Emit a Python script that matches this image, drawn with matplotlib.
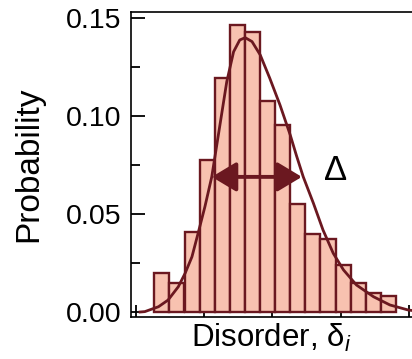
import matplotlib
matplotlib.use("Agg")
import matplotlib.pyplot as plt
from matplotlib.patches import FancyArrowPatch
from matplotlib.ticker import MultipleLocator

plt.rcParams["font.family"] = ["Liberation Sans", "DejaVu Sans"]
plt.rcParams["mathtext.fontset"] = "custom"
plt.rcParams["mathtext.rm"] = "Liberation Sans"
plt.rcParams["mathtext.it"] = "Liberation Sans:italic"

# histogram
bin_centers = [0.379, 0.600, 0.822, 1.043, 1.264, 1.486, 1.707, 1.928,
               2.150, 2.371, 2.592, 2.813, 3.035, 3.256, 3.477, 3.699]
bin_width = 0.2213
probability = [0.0197, 0.0146, 0.0408, 0.0776, 0.1195, 0.1464, 0.1429, 0.1078,
               0.0957, 0.0551, 0.0397, 0.0372, 0.0240, 0.0148, 0.0099, 0.0082]

# fitted curve, points
fit_x = [0.06, 0.13, 0.33, 0.47, 0.62, 0.72, 0.82, 0.91, 1.01, 1.11, 1.23,
         1.33, 1.43, 1.52, 1.60, 1.70, 1.82, 1.96, 2.11, 2.26, 2.35, 2.45,
         2.60, 2.74, 2.89, 3.04, 3.23, 3.48, 3.72, 3.99, 4.04]
fit_y = [0.0000, 0.0002, 0.0027, 0.0061, 0.0129, 0.0198, 0.0282, 0.0402,
         0.0538, 0.0690, 0.0955, 0.1176, 0.1329, 0.1389, 0.1401, 0.1381,
         0.1313, 0.1194, 0.1057, 0.0904, 0.0800, 0.0691, 0.0555, 0.0419,
         0.0300, 0.0215, 0.0138, 0.0078, 0.0036, 0.0010, 0.0008]

# FWHM arrow
arrow_x = [1.11, 2.43]
arrow_y = 0.069
delta_pos = (2.93, 0.0725)

y_ticks = [0.00, 0.05, 0.10, 0.15]
y_tick_labels = ["0.00", "0.05", "0.10", "0.15"]
x_ticks = [0, 1, 2, 3, 4]

dark = "#6b1820"
fill = "#f8c2b0"

fig = plt.figure(figsize=(4.12, 3.59), dpi=100)
ax = fig.add_axes([131 / 412, 42 / 359, 281 / 412, 305 / 359])

ax.bar(bin_centers, probability, width=bin_width, color=fill,
       edgecolor=dark, linewidth=1.7, zorder=2)
ax.plot(fit_x, fit_y, color=dark, lw=2.0, zorder=3)

arrow = FancyArrowPatch((arrow_x[0], arrow_y), (arrow_x[1], arrow_y),
                        arrowstyle="<|-|>,head_length=0.75,head_width=0.45",
                        mutation_scale=20, lw=2.8, color=dark,
                        shrinkA=0, shrinkB=0, zorder=4)
ax.add_patch(arrow)
ax.text(delta_pos[0], delta_pos[1], "\u0394", fontsize=25, ha="center",
        va="center", color="black", zorder=5)

ax.set_xlim(-0.073, 4.044)
ax.set_ylim(-0.00255, 0.1532)

ax.set_yticks(y_ticks)
ax.set_yticklabels(y_tick_labels)
ax.yaxis.set_minor_locator(MultipleLocator(0.025))
ax.set_xticks(x_ticks)
ax.set_xticklabels([])

ax.tick_params(axis="y", which="major", direction="in", length=10, width=1.3,
               labelsize=20.5, pad=7)
ax.tick_params(axis="y", which="minor", direction="in", length=6.5, width=1.3)
ax.tick_params(axis="x", which="major", direction="in", length=8.5, width=1.3)

for side in ["left", "top", "bottom"]:
    ax.spines[side].set_linewidth(1.2)
ax.spines["right"].set_visible(False)

ax.set_ylabel("Probability", fontsize=24)
ax.yaxis.set_label_coords(-0.31, 0.5)
ax.set_xlabel(r"Disorder, $\mathrm{\delta}_{\mathit{i}}$", fontsize=22.5)
ax.xaxis.set_label_coords(0.5, -0.015)

fig.savefig("out.png", dpi=100)
